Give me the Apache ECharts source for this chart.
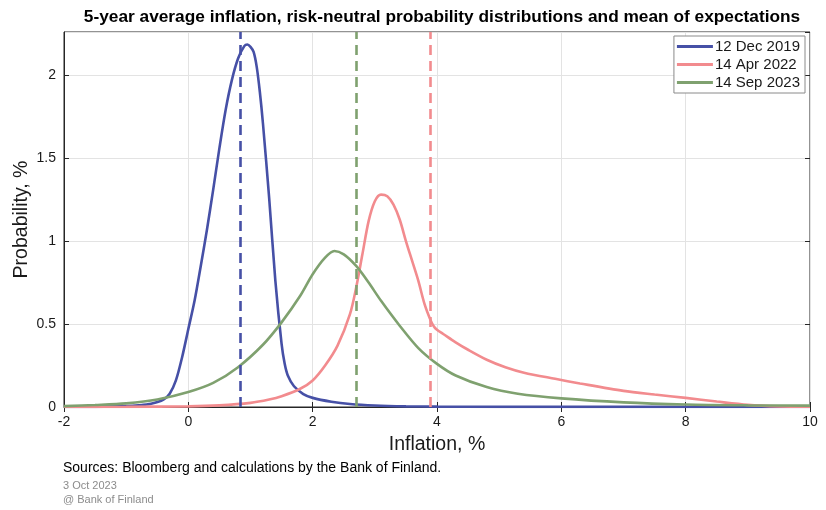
<!DOCTYPE html>
<html><head><meta charset="utf-8">
<script src="https://cdn.jsdelivr.net/npm/echarts@6/dist/echarts.min.js"></script>
<style>html,body{margin:0;padding:0;background:#fff}#c{width:826px;height:510px}</style>
</head><body><div id="c"></div>
<script>
var seriesNames = ['12 Dec 2019', '14 Apr 2022', '14 Sep 2023'];
var meanValues = [0.83, 3.89, 2.70];
var xTicks = [-2, 0, 2, 4, 6, 8, 10];
var yTicks = [0, 0.5, 1, 1.5, 2];

var blueX = [-2, -1.5, -1.0, -0.8, -0.6, -0.4, -0.3, -0.2, -0.1, 0.0, 0.1, 0.2, 0.3, 0.4, 0.5, 0.6, 0.7, 0.8, 0.9, 0.95, 1.0, 1.05, 1.1, 1.15, 1.2, 1.3, 1.4, 1.5, 1.55, 1.6, 1.7, 1.85, 2.0, 2.3, 2.6, 3.0, 3.5, 4.0, 5.0, 10];
var blueY = [0, 0.001, 0.005, 0.01, 0.02, 0.045, 0.08, 0.16, 0.30, 0.47, 0.64, 0.85, 1.07, 1.31, 1.56, 1.79, 1.97, 2.10, 2.175, 2.185, 2.17, 2.14, 2.05, 1.90, 1.71, 1.26, 0.76, 0.38, 0.26, 0.19, 0.125, 0.078, 0.055, 0.032, 0.018, 0.009, 0.004, 0.002, 0.001, 0];

var redX = [-2, -1, 0, 0.5, 1.0, 1.3, 1.5, 1.8, 2.0, 2.2, 2.4, 2.6, 2.7, 2.8, 2.9, 3.0, 3.1, 3.2, 3.3, 3.4, 3.5, 3.6, 3.7, 3.8, 3.9, 3.95, 4.0, 4.1, 4.3, 4.5, 4.8, 5.1, 5.4, 5.9, 6.3, 7.0, 7.5, 8.0, 8.5, 9.0, 9.5, 10];
var redY = [0, 0.001, 0.004, 0.01, 0.025, 0.045, 0.065, 0.11, 0.16, 0.25, 0.37, 0.56, 0.72, 0.92, 1.12, 1.24, 1.28, 1.27, 1.22, 1.13, 1.00, 0.88, 0.76, 0.62, 0.52, 0.485, 0.465, 0.44, 0.39, 0.345, 0.285, 0.24, 0.207, 0.17, 0.142, 0.097, 0.075, 0.055, 0.033, 0.013, 0.004, 0.002];

var greenX = [-2, -1.5, -1.0, -0.5, 0, 0.4, 0.8, 1.2, 1.5, 1.8, 2.0, 2.2, 2.35, 2.5, 2.7, 2.9, 3.1, 3.4, 3.7, 4.0, 4.3, 4.8, 5.3, 6.0, 7.0, 8.0, 9.0, 10];
var greenY = [0.005, 0.012, 0.022, 0.045, 0.09, 0.145, 0.24, 0.375, 0.51, 0.67, 0.80, 0.90, 0.94, 0.92, 0.85, 0.75, 0.64, 0.49, 0.355, 0.26, 0.19, 0.12, 0.08, 0.052, 0.028, 0.015, 0.01, 0.008];

var colors = ['#4650a6', '#f28b8e', '#7fa16f'];

function pairs(xs, ys) { return xs.map(function (x, i) { return [x, ys[i]]; }); }
var dataSets = [pairs(blueX, blueY), pairs(redX, redY), pairs(greenX, greenY)];

var chart = echarts.init(document.getElementById('c'));
var font = 'Liberation Sans, Arial, sans-serif';
var series = dataSets.map(function (d, i) {
  return {
    name: seriesNames[i], type: 'line', data: d, showSymbol: false,
    smooth: 0.3,
    lineStyle: { color: colors[i], width: 2.6 }, itemStyle: { color: colors[i] },
    z: 3,
    markLine: {
      silent: true, symbol: 'none', label: { show: false },
      lineStyle: { color: colors[i], width: 2.6, type: [10, 6] },
      data: [{ xAxis: meanValues[i] }]
    }
  };
});
chart.setOption({
  animation: false,
  backgroundColor: '#fff',
  title: {
    text: '5-year average inflation, risk-neutral probability distributions and mean of expectations',
    left: 437, top: 4, textAlign: 'center',
    textStyle: { fontFamily: font, fontSize: 17.3, fontWeight: 'bold', color: '#000' }
  },
  graphic: [
    { type: 'text', left: 63, top: 461, style: { text: 'Sources: Bloomberg and calculations by the Bank of Finland.', font: '14px ' + font, fill: '#000' } },
    { type: 'text', left: 63, top: 480, style: { text: '3 Oct 2023', font: '11px ' + font, fill: '#8c8c8c' } },
    { type: 'text', left: 63, top: 494, style: { text: '@ Bank of Finland', font: '11px ' + font, fill: '#8c8c8c' } }
  ],
  legend: {
    data: seriesNames, orient: 'vertical', right: 21, top: 36,
    backgroundColor: '#fff', borderColor: '#8a8a8a', borderWidth: 1, borderRadius: 0,
    padding: [3, 5, 3, 3], itemGap: 3, itemWidth: 36, itemHeight: 3, icon: 'rect',
    textStyle: { fontFamily: font, fontSize: 15, color: '#1a1a1a', padding: [0, 0, 0, -3] }
  },
  grid: { left: 64, right: 16, top: 32, bottom: 103, show: true, borderColor: '#262626', borderWidth: 1, backgroundColor: 'transparent', containLabel: false, outerBoundsMode: 'none' },
  xAxis: [{
    type: 'value', min: -2, max: 10, interval: 2,
    name: 'Inflation, %', nameLocation: 'middle', nameGap: 28,
    nameTextStyle: { fontFamily: font, fontSize: 19.5, color: '#1a1a1a' },
    axisLine: { show: true, onZero: false, lineStyle: { color: '#262626' } },
    axisTick: { show: true, inside: true, length: 5, lineStyle: { color: '#262626' } },
    axisLabel: { fontFamily: font, fontSize: 14, color: '#1a1a1a', margin: 8 },
    splitLine: { show: true, lineStyle: { color: '#e3e3e3' } }
  }, {
    type: 'value', min: -2, max: 10, interval: 2, position: 'top',
    axisLine: { show: false }, axisLabel: { show: false }, splitLine: { show: false },
    axisTick: { show: true, inside: true, length: 5, lineStyle: { color: '#262626' } }
  }],
  yAxis: [{
    type: 'value', min: 0, max: 2.26, interval: 0.5,
    name: 'Probability, %', nameLocation: 'middle', nameGap: 32, nameMoveOverlap: false,
    nameTextStyle: { fontFamily: font, fontSize: 19.5, color: '#1a1a1a' },
    axisLine: { show: true, onZero: false, lineStyle: { color: '#262626' } },
    axisTick: { show: true, inside: true, length: 5, lineStyle: { color: '#262626' } },
    axisLabel: { fontFamily: font, fontSize: 14, color: '#1a1a1a', margin: 8, showMaxLabel: false },
    splitLine: { show: true, lineStyle: { color: '#e3e3e3' } }
  }, {
    type: 'value', min: 0, max: 2.26, interval: 0.5, position: 'right',
    axisLine: { show: false, onZero: false }, axisLabel: { show: false }, splitLine: { show: false },
    axisTick: { show: true, inside: true, length: 5, lineStyle: { color: '#262626' } }
  }],
  series: series
});
</script></body></html>
